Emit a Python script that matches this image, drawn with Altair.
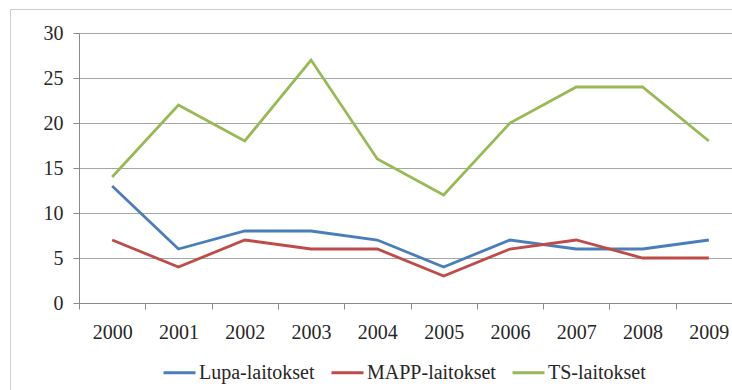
import altair as alt
import pandas as pd

# Annual counts per facility group
years = [2000, 2001, 2002, 2003, 2004, 2005, 2006, 2007, 2008, 2009]
lupa = [13, 6, 8, 8, 7, 4, 7, 6, 6, 7]
mapp = [7, 4, 7, 6, 6, 3, 6, 7, 5, 5]
ts = [14, 22, 18, 27, 16, 12, 20, 24, 24, 18]

series_names = ["Lupa-laitokset", "MAPP-laitokset", "TS-laitokset"]
series_colors = ["#4A7EBB", "#BE4B48", "#98B954"]
y_ticks = [0, 5, 10, 15, 20, 25, 30]

rows = []
for name, vals in zip(series_names, [lupa, mapp, ts]):
    for yr, v in zip(years, vals):
        rows.append({"year": str(yr), "value": v, "series": name})
df = pd.DataFrame(rows)

FONT = "Liberation Serif"
TEXT = "#262626"
W, H = 653, 270
BAND_RANGE = 663  # ten equal year bands; the last one runs past the right edge

x_axis = alt.Axis(
    tickBand="extent",
    labelAngle=0,
    labelOverlap=False,
    grid=False,
    title=None,
    tickSize=6,
    labelPadding=13,
)

y_axis = alt.Axis(
    values=y_ticks,
    grid=True,
    title=None,
    tickSize=6,
    labelPadding=10,
)

lines = alt.Chart(df).mark_line(strokeWidth=2.8).encode(
    x=alt.X(
        "year:O",
        sort=[str(y) for y in years],
        scale=alt.Scale(range=[0, BAND_RANGE], paddingInner=0, paddingOuter=0),
        axis=x_axis,
    ),
    y=alt.Y("value:Q", scale=alt.Scale(domain=[0, 30], nice=False), axis=y_axis),
    color=alt.Color(
        "series:N",
        scale=alt.Scale(domain=series_names, range=series_colors),
        legend=alt.Legend(
            title=None,
            orient="none",
            direction="horizontal",
            columns=3,
            legendX=83,
            legendY=322,
            padding=0,
            symbolType="stroke",
            symbolSize=1024,
            symbolStrokeWidth=3,
            labelFont=FONT,
            labelFontSize=20,
            labelColor=TEXT,
            labelOffset=2,
            columnPadding=10,
        ),
    ),
)

# outer chart frame
frame = alt.Chart(pd.DataFrame({"k": [0]})).mark_rect(
    fill="transparent", stroke="#cccccc", strokeWidth=1
).encode(
    x=alt.value(-68.5),
    x2=alt.value(900),
    y=alt.value(-23.5),
    y2=alt.value(600),
)

chart = alt.layer(frame, lines).properties(
    width=W,
    height=H,
    autosize=alt.AutoSizeParams(type="none"),
    padding={"left": 79, "top": 33, "right": 0, "bottom": 87},
    background="white",
).configure_view(
    stroke=None
).configure_axis(
    labelFont=FONT,
    labelFontSize=20,
    labelColor=TEXT,
    domainColor="#8a8a8a",
    tickColor="#8a8a8a",
    gridColor="#a6a6a6",
    domainWidth=1,
    tickWidth=1,
    gridWidth=1,
)

chart.save("out.html", embed_options={"renderer": "svg", "actions": False})
